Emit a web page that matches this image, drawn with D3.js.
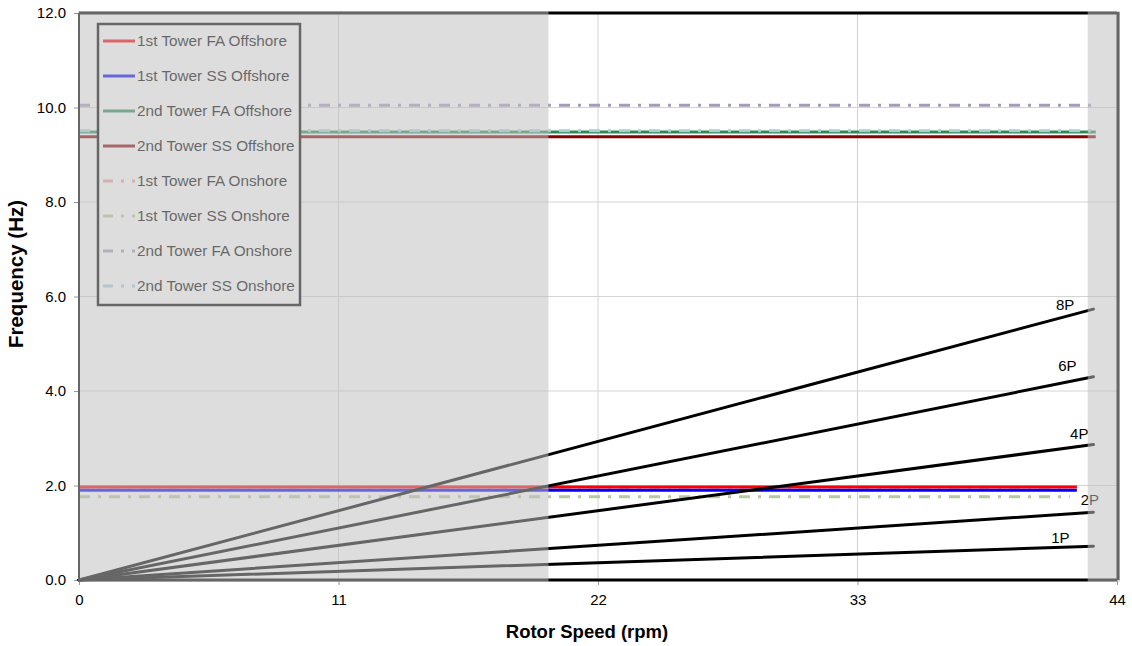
<!DOCTYPE html>
<html>
<head>
<meta charset="utf-8">
<script src="https://cdn.jsdelivr.net/npm/d3@7"></script>
<style>
  html, body { margin: 0; padding: 0; background: #fff; }
  svg { display: block; font-family: "Liberation Sans", Arial, sans-serif; }
</style>
</head>
<body>
<svg id="chart" width="1132" height="646"></svg>
<script>
// Campbell diagram: tower natural frequencies vs. rotor excitation harmonics

// Axis ticks
const xTicks = [0, 11, 22, 33, 44];
const yTicks = [0, 2, 4, 6, 8, 10, 12];

// Tower natural frequencies (Hz) and the rotor speed where each line ends (rpm)
const towerNames = [
  "1st Tower FA Offshore", "1st Tower SS Offshore",
  "2nd Tower FA Offshore", "2nd Tower SS Offshore",
  "1st Tower FA Onshore", "1st Tower SS Onshore",
  "2nd Tower FA Onshore", "2nd Tower SS Onshore"
];
const towerFreq = [1.97, 1.90, 9.48, 9.38, 1.97, 1.76, 10.05, 9.51];
const towerEnd  = [42.3, 42.3, 43.1, 43.1, 42.0, 42.0, 43.0, 43.0];
const towerColor = ["#ff0000", "#0000ff", "#2e8b57", "#8b0000",
                    "#e8a0a0", "#b7c9a0", "#a79bbb", "#a8cdd8"];
const towerDash = [null, null, null, null, "11,8,3,8", "11,8,3,8", "11,8,3,8", "11,8,3,8"];

// Rotor harmonics (nP): frequency = n * rpm / 60
const harmonics = [1, 2, 4, 6, 8];
const harmonicLabels = ["1P", "2P", "4P", "6P", "8P"];
const rpmRange = [0, 43];
// Label anchor (rpm, Hz) for each harmonic label
const labelRpm = [41.6, 42.85, 42.4, 41.9, 41.8];
const labelHz  = [0.78, 1.59, 2.98, 4.42, 5.72];

// Shaded (excluded) rotor speed bands
const bands = [[0, 19.9], [42.8, 44]];

const svg = d3.select("#chart");
const L = 79, R = 1117, T = 13, B = 580;

const x = d3.scaleLinear().domain([0, 44]).range([L, R]);
const y = d3.scaleLinear().domain([0, 12]).range([B, T]);

// Grid lines
svg.append("g").selectAll("line")
  .data(xTicks.filter(d => d > 0 && d < 44)).join("line")
  .attr("x1", d => x(d)).attr("x2", d => x(d))
  .attr("y1", T).attr("y2", B)
  .attr("stroke", "#d4d4d4").attr("stroke-width", 1);
svg.append("g").selectAll("line")
  .data(yTicks.filter(d => d > 0 && d < 12)).join("line")
  .attr("x1", L).attr("x2", R)
  .attr("y1", d => y(d)).attr("y2", d => y(d))
  .attr("stroke", "#d4d4d4").attr("stroke-width", 1);

// Axes
const yAxis = d3.axisLeft(y).tickValues(yTicks).tickFormat(d3.format(".1f")).tickSize(5).tickPadding(8);
const xAxis = d3.axisBottom(x).tickValues(xTicks).tickFormat(d3.format("d")).tickSize(5).tickPadding(9);

const gy = svg.append("g").attr("transform", `translate(${L},0)`).call(yAxis);
const gx = svg.append("g").attr("transform", `translate(0,${B})`).call(xAxis);
[gx, gy].forEach(g => {
  g.select(".domain").remove();
  g.selectAll(".tick line").attr("stroke", "#999");
  g.selectAll(".tick text").attr("fill", "#000").style("font-size", "15px")
    .style("font-family", "Liberation Sans, Arial, sans-serif");
});

// Tower frequency lines
const order = [4, 0, 1, 2, 3, 5, 6, 7];
const lineG = svg.append("g");
order.forEach(i => {
  lineG.append("line")
    .attr("x1", x(0)).attr("x2", x(towerEnd[i]))
    .attr("y1", y(towerFreq[i])).attr("y2", y(towerFreq[i]))
    .attr("stroke", towerColor[i])
    .attr("stroke-width", 3)
    .attr("stroke-dasharray", towerDash[i]);
});

// Rotor harmonic lines
const hLine = d3.line().x(d => x(d[0])).y(d => y(d[1]));
harmonics.forEach(n => {
  lineG.append("path")
    .attr("d", hLine(rpmRange.map(r => [r, n * r / 60])))
    .attr("fill", "none").attr("stroke", "#000").attr("stroke-width", 3)
    .attr("stroke-linecap", "round");
});

// Harmonic labels near the right end of each line
harmonicLabels.forEach((lab, i) => {
  svg.append("text")
    .attr("x", x(labelRpm[i])).attr("y", y(labelHz[i]))
    .attr("text-anchor", "middle")
    .style("font-size", "15px").attr("fill", "#000")
    .text(lab);
});

// Plot frame
svg.append("line").attr("x1", L).attr("x2", R).attr("y1", T).attr("y2", T)
  .attr("stroke", "#000").attr("stroke-width", 3);
svg.append("line").attr("x1", L).attr("x2", R).attr("y1", B).attr("y2", B)
  .attr("stroke", "#000").attr("stroke-width", 3);
svg.append("line").attr("x1", L).attr("x2", L).attr("y1", T).attr("y2", B)
  .attr("stroke", "#000").attr("stroke-width", 2);
svg.append("line").attr("x1", R + 1).attr("x2", R + 1).attr("y1", T - 1).attr("y2", B)
  .attr("stroke", "#000").attr("stroke-width", 3);

// Legend
const lg = svg.append("g").attr("transform", "translate(98,24)");
lg.append("rect").attr("x", 0).attr("y", 0).attr("width", 202).attr("height", 281)
  .attr("fill", "#fff").attr("stroke", "#000").attr("stroke-width", 2.5);
towerNames.forEach((name, i) => {
  const yy = 17 + i * 35;
  lg.append("line")
    .attr("x1", 5).attr("x2", 37).attr("y1", yy).attr("y2", yy)
    .attr("stroke", towerColor[i]).attr("stroke-width", 3)
    .attr("stroke-dasharray", towerDash[i] ? "10,8,3,8" : null);
  lg.append("text").attr("x", 39).attr("y", yy + 5)
    .style("font-size", "15.3px").attr("fill", "#000")
    .text(name);
});

// Translucent shading over excluded speed bands (drawn on top)
svg.append("g").selectAll("rect").data(bands).join("rect")
  .attr("x", d => x(d[0]) - 1)
  .attr("y", T - 2)
  .attr("width", d => x(d[1]) - x(d[0]) + (d[1] === 44 ? 4 : 1))
  .attr("height", B - T + 4)
  .attr("fill", "rgb(191,191,191)").attr("fill-opacity", 0.535);

// Axis titles
svg.append("text").attr("x", 587).attr("y", 638)
  .attr("text-anchor", "middle").style("font-size", "18.5px").style("font-weight", "bold")
  .text("Rotor Speed (rpm)");
svg.append("text")
  .attr("transform", "translate(23,274) rotate(-90)")
  .attr("text-anchor", "middle").style("font-size", "20.5px").style("font-weight", "bold")
  .text("Frequency (Hz)");
</script>
</body>
</html>
